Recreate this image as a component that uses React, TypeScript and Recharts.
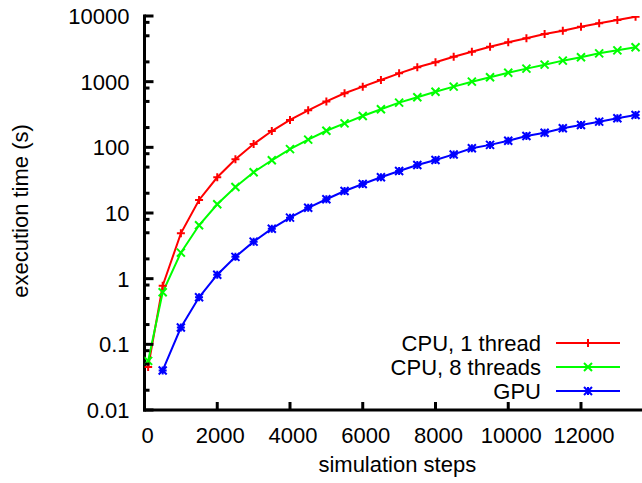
import { LineChart, Line, XAxis, YAxis, Legend } from "recharts";

const steps = [
  100, 500, 1000, 1500, 2000, 2500, 3000, 3500, 4000, 4500, 5000, 5500, 6000,
  6500, 7000, 7500, 8000, 8500, 9000, 9500, 10000, 10500, 11000, 11500, 12000,
  12500, 13000, 13500,
];

const cpu1 = [
  0.045, 0.78, 4.9, 15.8, 35, 66, 112, 177, 261, 366, 500, 665, 840, 1060,
  1340, 1655, 1970, 2400, 2860, 3410, 3975, 4570, 5320, 5980, 6880, 7730, 8690,
  9770,
];

const cpu8 = [
  0.056, 0.62, 2.49, 6.5, 13.6, 24.9, 41.7, 63.5, 94, 131, 179, 232, 300, 380,
  479, 578, 703, 840, 1000, 1165, 1370, 1580, 1815, 2090, 2350, 2700, 3000,
  3340,
];

const gpu = [
  null, 0.04, 0.18, 0.52, 1.15, 2.15, 3.66, 5.77, 8.5, 12, 16.2, 21.6, 27.7,
  35, 43.6, 53.8, 64, 78, 97, 109, 126, 149, 167, 195, 219, 246, 277, 311,
];

const xTicks = [0, 2000, 4000, 6000, 8000, 10000, 12000];
const yMajor = [0.01, 0.1, 1, 10, 100, 1000, 10000];
const yMinorSteps = [2, 5, 8];

const data = steps.map((s, i) => ({
  step: s,
  cpu1: cpu1[i],
  cpu8: cpu8[i],
  gpu: gpu[i],
}));

const yTicks = [
  ...yMajor,
  ...yMajor.slice(0, -1).flatMap((d) => yMinorSteps.map((m) => +(d * m).toPrecision(3))),
];

const FONT = "'Liberation Sans', Arial, sans-serif";
const FS = 22;
const W = 680;
const H = 483;

function marker(kind: string, cx: number, cy: number, color: string, key?: any) {
  const r = 4;
  let d = "";
  const plus = `M${cx - r},${cy}H${cx + r}M${cx},${cy - r}V${cy + r}`;
  const cross = `M${cx - r},${cy - r}L${cx + r},${cy + r}M${cx - r},${cy + r}L${cx + r},${cy - r}`;
  if (kind === "plus") d = plus;
  else if (kind === "cross") d = cross;
  else d = plus + cross;
  return <path key={key} d={d} stroke={color} strokeWidth={2} fill="none" />;
}

const makeDot = (kind: string, color: string) => (p: any) => {
  if (p.cx == null || p.cy == null || p.value == null) return <g key={p.index} />;
  return marker(kind, p.cx, p.cy, color, p.index);
};

const isMajor = (v: number) => yMajor.includes(v);

function LeftTick({ x, y, payload }: any) {
  const major = isMajor(payload.value);
  return (
    <g>
      <line x1={x} x2={x + (major ? 9 : 5)} y1={y} y2={y} stroke="#000" strokeWidth={3} />
      {major && (
        <text x={x - 15} y={y + 8} textAnchor="end" fontSize={FS} fontFamily={FONT} fill="#000">
          {String(payload.value)}
        </text>
      )}
    </g>
  );
}

function RightTick({ x, y, payload }: any) {
  const major = isMajor(payload.value);
  return <line x1={x} x2={x - (major ? 9 : 5)} y1={y} y2={y} stroke="#000" strokeWidth={3} />;
}

function BottomTick({ x, y, payload }: any) {
  return (
    <g>
      <line x1={x} x2={x} y1={y} y2={y - 8} stroke="#000" strokeWidth={3} />
      <text x={x + 3} y={y + 33} textAnchor="middle" fontSize={FS} fontFamily={FONT} fill="#000">
        {String(payload.value)}
      </text>
    </g>
  );
}

function TopTick({ x, y }: any) {
  return <line x1={x} x2={x} y1={y} y2={y + 8} stroke="#000" strokeWidth={3} />;
}

const legendRows = [
  { label: "CPU, 1 thread", color: "#ff0000", kind: "plus" },
  { label: "CPU, 8 threads", color: "#00ff00", kind: "cross" },
  { label: "GPU", color: "#0000ff", kind: "star" },
];

function LegendBox() {
  return (
    <svg width={340} height={80} style={{ display: "block" }}>
      {legendRows.map((r, i) => {
        const cy = 18 + i * 24;
        return (
          <g key={r.label}>
            <text x={241} y={cy + 8} textAnchor="end" fontSize={FS} fontFamily={FONT} fill="#000">
              {r.label}
            </text>
            <line x1={256} x2={320} y1={cy} y2={cy} stroke={r.color} strokeWidth={2} />
            {marker(r.kind, 288, cy, r.color)}
          </g>
        );
      })}
    </svg>
  );
}

const axisLine = { stroke: "#000", strokeWidth: 3, strokeLinecap: "square" as const };

export default function App() {
  return (
    <div
      style={{
        position: "fixed",
        left: 0,
        top: 0,
        width: 642,
        height: 483,
        overflow: "hidden",
        background: "#fff",
      }}
    >
      <LineChart width={W} height={H} data={data} margin={{ top: 16, right: 29.9, bottom: 0, left: 0 }}>
        <XAxis
          xAxisId="bottom"
          dataKey="step"
          type="number"
          domain={[0, 13900]}
          ticks={xTicks}
          interval={0}
          allowDataOverflow
          height={73}
          axisLine={axisLine}
          tickLine={false}
          tickSize={0}
          tickMargin={0}
          tick={<BottomTick />}
          label={{
            value: "simulation steps",
            position: "insideBottom",
            offset: 11,
            fontSize: FS,
            fontFamily: FONT,
            fill: "#000",
          }}
        />
        <XAxis
          xAxisId="top"
          orientation="top"
          dataKey="step"
          type="number"
          domain={[0, 13900]}
          ticks={xTicks}
          interval={0}
          allowDataOverflow
          height={0}
          axisLine={axisLine}
          tickLine={false}
          tickSize={0}
          tickMargin={0}
          tick={<TopTick />}
        />
        <YAxis
          yAxisId="left"
          type="number"
          scale="log"
          domain={[0.01, 10000]}
          ticks={yTicks}
          interval={0}
          allowDataOverflow
          width={144.5}
          axisLine={axisLine}
          tickLine={false}
          tickSize={0}
          tickMargin={0}
          tick={<LeftTick />}
          label={{
            content: () => (
              <text
                x={28}
                y={211}
                transform="rotate(-90 28 211)"
                textAnchor="middle"
                fontSize={FS}
                fontFamily={FONT}
                fill="#000"
              >
                execution time (s)
              </text>
            ),
          }}
        />
        <YAxis
          yAxisId="right"
          orientation="right"
          type="number"
          scale="log"
          domain={[0.01, 10000]}
          ticks={yTicks}
          interval={0}
          allowDataOverflow
          width={0}
          axisLine={axisLine}
          tickLine={false}
          tickSize={0}
          tickMargin={0}
          tick={<RightTick />}
        />
        <Legend
          layout="horizontal"
          verticalAlign="middle"
          align="center"
          wrapperStyle={{ left: 300, top: 325, width: 340, height: 80 }}
          content={() => <LegendBox />}
        />
        <Line
          xAxisId="bottom"
          yAxisId="left"
          dataKey="cpu1"
          type="linear"
          stroke="#ff0000"
          strokeWidth={2}
          dot={makeDot("plus", "#ff0000")}
          activeDot={false}
          isAnimationActive={false}
        />
        <Line
          xAxisId="bottom"
          yAxisId="left"
          dataKey="cpu8"
          type="linear"
          stroke="#00ff00"
          strokeWidth={2}
          dot={makeDot("cross", "#00ff00")}
          activeDot={false}
          isAnimationActive={false}
        />
        <Line
          xAxisId="bottom"
          yAxisId="left"
          dataKey="gpu"
          type="linear"
          stroke="#0000ff"
          strokeWidth={2}
          dot={makeDot("star", "#0000ff")}
          activeDot={false}
          isAnimationActive={false}
        />
      </LineChart>
    </div>
  );
}
